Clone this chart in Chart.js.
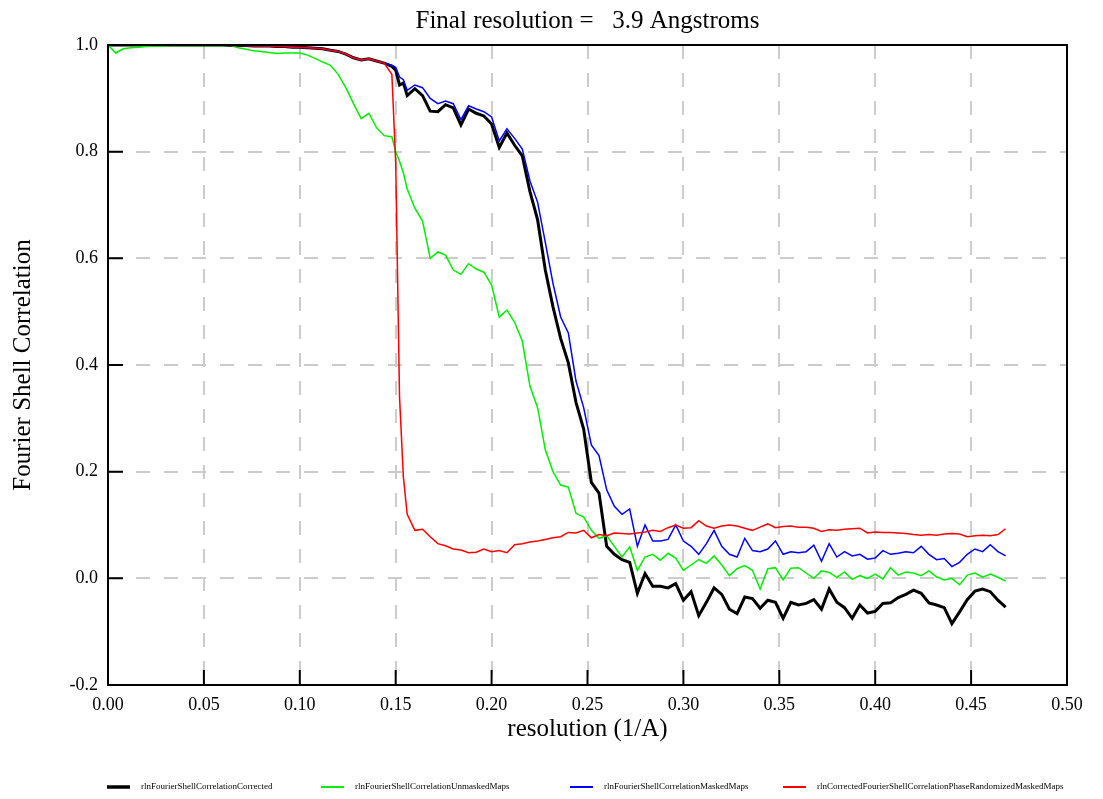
<!DOCTYPE html>
<html>
<head>
<meta charset="utf-8">
<title>FSC</title>
<script src="https://cdn.jsdelivr.net/npm/chart.js@4.4.1/dist/chart.umd.min.js"></script>
<style>
  body { margin: 0; background: #fff; }
  canvas { display: block; }
</style>
</head>
<body>
<canvas id="chart" width="1103" height="799"></canvas>
<script>
'use strict';

// resolution (1/A), every 0.004 with two extra samples round the red drop
const resolution = [
  0.000, 0.004, 0.008, 0.012, 0.016, 0.020, 0.024, 0.028, 0.032, 0.036,
  0.040, 0.044, 0.048, 0.052, 0.056, 0.060, 0.064, 0.068, 0.072, 0.076,
  0.080, 0.084, 0.088, 0.092, 0.096, 0.100, 0.104, 0.108, 0.112, 0.116,
  0.120, 0.124, 0.128, 0.132, 0.136, 0.140, 0.144, 0.148, 0.150, 0.152, 0.154, 0.156,
  0.160, 0.164, 0.168, 0.172, 0.176, 0.180, 0.184, 0.188, 0.192, 0.196,
  0.200, 0.204, 0.208, 0.212, 0.216, 0.220, 0.224, 0.228, 0.232, 0.236,
  0.240, 0.244, 0.248, 0.252, 0.256, 0.260, 0.264, 0.268, 0.272, 0.276,
  0.280, 0.284, 0.288, 0.292, 0.296, 0.300, 0.304, 0.308, 0.312, 0.316,
  0.320, 0.324, 0.328, 0.332, 0.336, 0.340, 0.344, 0.348, 0.352, 0.356,
  0.360, 0.364, 0.368, 0.372, 0.376, 0.380, 0.384, 0.388, 0.392, 0.396,
  0.400, 0.404, 0.408, 0.412, 0.416, 0.420, 0.424, 0.428, 0.432, 0.436,
  0.440, 0.444, 0.448, 0.452, 0.456, 0.460, 0.464, 0.468
];

const fscCorrected = [
  1.000, 1.000, 1.000, 1.000, 1.000, 1.000, 1.000, 1.000, 1.000, 1.000,
  1.000, 1.000, 1.000, 1.000, 1.000, 1.000, 0.999, 0.999, 0.999, 0.998,
  0.998, 0.998, 0.997, 0.997, 0.996, 0.996, 0.995, 0.994, 0.993, 0.990,
  0.988, 0.983, 0.976, 0.972, 0.974, 0.970, 0.966, 0.960, 0.953, 0.925, 0.929, 0.905,
  0.918, 0.905, 0.876, 0.875, 0.888, 0.882, 0.850, 0.880, 0.872, 0.867,
  0.852, 0.808, 0.835, 0.812, 0.792, 0.725, 0.672, 0.578, 0.509, 0.450,
  0.404, 0.330, 0.280, 0.180, 0.160, 0.060, 0.045, 0.035, 0.030, -0.028,
  0.009, -0.015, -0.015, -0.018, -0.010, -0.041, -0.025, -0.070, -0.045, -0.018,
  -0.030, -0.058, -0.066, -0.035, -0.038, -0.056, -0.041, -0.045, -0.075, -0.045,
  -0.050, -0.047, -0.040, -0.058, -0.020, -0.045, -0.055, -0.075, -0.050, -0.065,
  -0.062, -0.047, -0.046, -0.036, -0.030, -0.022, -0.028, -0.046, -0.050, -0.055,
  -0.085, -0.063, -0.040, -0.024, -0.020, -0.025, -0.041, -0.054
];

const fscUnmasked = [
  1.000, 0.985, 0.993, 0.995, 0.996, 0.997, 0.998, 0.998, 0.999, 0.999,
  0.999, 0.999, 0.999, 0.999, 0.999, 0.999, 0.999, 0.995, 0.992, 0.989,
  0.988, 0.986, 0.984, 0.985, 0.985, 0.985, 0.981, 0.975, 0.968, 0.962,
  0.945, 0.920, 0.890, 0.862, 0.872, 0.845, 0.830, 0.828, 0.800, 0.782, 0.760, 0.730,
  0.694, 0.670, 0.600, 0.612, 0.606, 0.578, 0.570, 0.590, 0.580, 0.574,
  0.550, 0.490, 0.503, 0.480, 0.445, 0.360, 0.320, 0.241, 0.200, 0.175,
  0.171, 0.122, 0.115, 0.090, 0.075, 0.080, 0.060, 0.040, 0.059, 0.015,
  0.040, 0.045, 0.034, 0.047, 0.038, 0.015, 0.025, 0.035, 0.028, 0.042,
  0.025, 0.005, 0.018, 0.024, 0.015, -0.020, 0.018, 0.020, -0.003, 0.019,
  0.020, 0.010, 0.000, 0.014, 0.011, 0.002, 0.012, -0.002, 0.005, 0.000,
  0.008, -0.001, 0.020, 0.006, 0.012, 0.010, 0.005, 0.014, 0.003, -0.003,
  0.000, -0.012, 0.006, 0.010, 0.002, 0.008, 0.002, -0.005
];

const fscMasked = [
  1.000, 1.000, 1.000, 1.000, 1.000, 1.000, 1.000, 1.000, 1.000, 1.000,
  1.000, 1.000, 1.000, 1.000, 1.000, 1.000, 0.999, 0.999, 0.999, 0.998,
  0.998, 0.998, 0.997, 0.997, 0.996, 0.996, 0.995, 0.994, 0.993, 0.990,
  0.988, 0.983, 0.976, 0.972, 0.974, 0.970, 0.966, 0.962, 0.958, 0.940, 0.935, 0.915,
  0.925, 0.920, 0.900, 0.890, 0.895, 0.890, 0.860, 0.886, 0.880, 0.875,
  0.865, 0.820, 0.843, 0.825, 0.805, 0.745, 0.705, 0.630, 0.553, 0.490,
  0.460, 0.370, 0.320, 0.250, 0.230, 0.166, 0.135, 0.120, 0.130, 0.060,
  0.100, 0.070, 0.070, 0.073, 0.100, 0.070, 0.060, 0.045, 0.065, 0.090,
  0.060, 0.045, 0.040, 0.075, 0.052, 0.050, 0.055, 0.070, 0.045, 0.050,
  0.048, 0.050, 0.062, 0.032, 0.065, 0.040, 0.050, 0.042, 0.045, 0.036,
  0.038, 0.052, 0.045, 0.047, 0.050, 0.048, 0.060, 0.045, 0.035, 0.037,
  0.022, 0.030, 0.045, 0.055, 0.050, 0.063, 0.050, 0.042
];

const fscPhaseRandomized = [
  1.000, 1.000, 1.000, 1.000, 1.000, 1.000, 1.000, 1.000, 1.000, 1.000,
  1.000, 1.000, 1.000, 1.000, 1.000, 1.000, 0.999, 0.999, 0.999, 0.998,
  0.998, 0.998, 0.997, 0.997, 0.996, 0.996, 0.995, 0.994, 0.993, 0.990,
  0.988, 0.983, 0.976, 0.972, 0.974, 0.970, 0.966, 0.945, 0.780, 0.340, 0.190, 0.120,
  0.090, 0.092, 0.078, 0.065, 0.061, 0.055, 0.053, 0.048, 0.049, 0.055,
  0.050, 0.052, 0.048, 0.063, 0.065, 0.068, 0.070, 0.073, 0.076, 0.078,
  0.086, 0.085, 0.090, 0.076, 0.082, 0.080, 0.085, 0.084, 0.083, 0.085,
  0.087, 0.090, 0.088, 0.095, 0.100, 0.094, 0.095, 0.108, 0.098, 0.094,
  0.098, 0.100, 0.098, 0.094, 0.090, 0.096, 0.102, 0.095, 0.097, 0.098,
  0.096, 0.096, 0.094, 0.088, 0.091, 0.090, 0.092, 0.093, 0.094, 0.085,
  0.087, 0.086, 0.086, 0.085, 0.084, 0.082, 0.081, 0.082, 0.081, 0.083,
  0.084, 0.083, 0.078, 0.080, 0.081, 0.080, 0.082, 0.093
];

const seriesNames = [
  'rlnFourierShellCorrelationCorrected',
  'rlnFourierShellCorrelationUnmaskedMaps',
  'rlnFourierShellCorrelationMaskedMaps',
  'rlnCorrectedFourierShellCorrelationPhaseRandomizedMaskedMaps'
];

const chartTitle = 'Final resolution =   3.9 Angstroms';

const serif = "'Liberation Serif', 'Times New Roman', serif";
Chart.defaults.font.family = serif;
Chart.defaults.color = '#000';

function points(ys) {
  return resolution.map((x, i) => ({ x: x, y: ys[i] }));
}

// title over the plot, frame, inward ticks and the legend row
const framePlugin = {
  id: 'frame',
  afterDraw(chart) {
    const ctx = chart.ctx;
    const a = chart.chartArea;
    const xs = chart.scales.x;
    const ys = chart.scales.y;
    ctx.save();
    ctx.strokeStyle = '#000';
    ctx.lineWidth = 2;
    ctx.strokeRect(a.left, a.top, a.right - a.left, a.bottom - a.top);

    ctx.beginPath();
    ys.ticks.forEach(t => {
      const py = ys.getPixelForValue(t.value);
      ctx.moveTo(a.left, py);
      ctx.lineTo(a.left + 15, py);
    });
    xs.ticks.forEach(t => {
      const px = xs.getPixelForValue(t.value);
      ctx.moveTo(px, a.bottom);
      ctx.lineTo(px, a.bottom - 15);
    });
    ctx.stroke();

    ctx.fillStyle = '#000';
    ctx.textAlign = 'center';
    ctx.textBaseline = 'middle';
    ctx.font = '25px ' + serif;
    ctx.fillText(chartTitle, (a.left + a.right) / 2, 21);

    const legendX = [107, 321, 570, 783];
    const legendY = 787;
    ctx.font = '9px ' + serif;
    ctx.textAlign = 'left';
    chart.data.datasets.forEach((ds, i) => {
      ctx.beginPath();
      ctx.strokeStyle = ds.borderColor;
      ctx.lineWidth = ds.borderWidth + 0.5;
      ctx.moveTo(legendX[i], legendY);
      ctx.lineTo(legendX[i] + 23, legendY);
      ctx.stroke();
      ctx.fillText(ds.label, legendX[i] + 34, legendY);
    });
    ctx.restore();
  }
};

let canvas = document.getElementById('chart');
let context = canvas.getContext('2d');

var chart = new Chart(context, {
  type: 'line',
  data: {
    datasets: [
      {
        label: seriesNames[0],
        borderColor: '#000000',
        borderWidth: 3,
        data: points(fscCorrected),
        order: 4
      },
      {
        label: seriesNames[1],
        borderColor: '#00ee00',
        borderWidth: 1.5,
        data: points(fscUnmasked),
        order: 3
      },
      {
        label: seriesNames[2],
        borderColor: '#0000ff',
        borderWidth: 1.5,
        data: points(fscMasked),
        order: 2
      },
      {
        label: seriesNames[3],
        borderColor: '#ff0000',
        borderWidth: 1.5,
        data: points(fscPhaseRandomized),
        order: 1
      }
    ]
  },
  options: {
    responsive: false,
    animation: false,
    devicePixelRatio: 1,
    layout: { padding: { top: 45, left: 0, right: 36, bottom: 0 } },
    elements: {
      point: { radius: 0 },
      line: { tension: 0, fill: false }
    },
    plugins: {
      legend: { display: false },
      tooltip: { enabled: false },
      title: { display: false }
    },
    scales: {
      x: {
        type: 'linear',
        min: 0,
        max: 0.5,
        afterFit: s => { s.height = 114; },
        ticks: {
          stepSize: 0.05,
          padding: 9,
          font: { size: 18 },
          callback: v => v.toFixed(2)
        },
        grid: { color: '#cccccc', lineWidth: 2, drawTicks: false },
        border: { display: false, dash: [14, 14] },
        title: {
          display: true,
          text: 'resolution (1/A)',
          font: { size: 25 },
          padding: { top: 0, bottom: 55 }
        }
      },
      y: {
        type: 'linear',
        min: -0.2,
        max: 1.0,
        afterFit: s => { s.width = 108; },
        ticks: {
          stepSize: 0.2,
          padding: 10,
          font: { size: 18 },
          callback: v => (Math.abs(v) < 1e-9 ? 0 : v).toFixed(1)
        },
        grid: { color: '#cccccc', lineWidth: 2, drawTicks: false },
        border: { display: false, dash: [14, 14] },
        title: {
          display: true,
          text: 'Fourier Shell Correlation',
          font: { size: 25 },
          padding: { top: 8, bottom: 0 }
        }
      }
    }
  },
  plugins: [framePlugin]
});
</script>
</body>
</html>
